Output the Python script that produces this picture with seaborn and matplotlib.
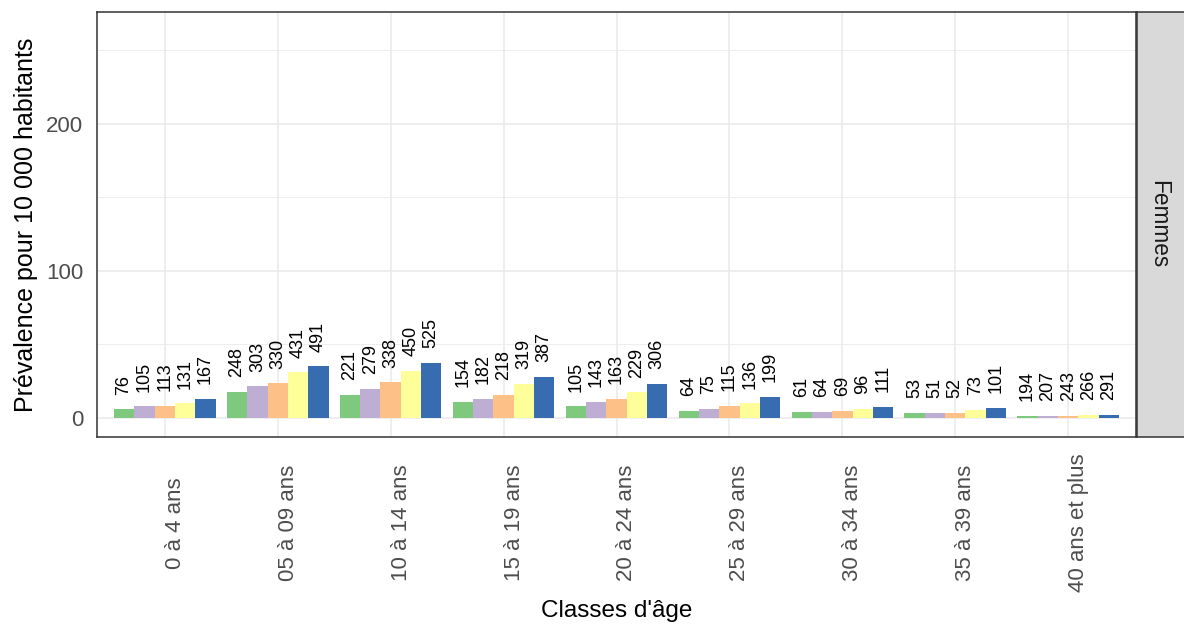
import numpy as np
import pandas as pd
import matplotlib
matplotlib.use("Agg")
import matplotlib.pyplot as plt
import matplotlib.transforms as mtransforms
import seaborn as sns

# Données
classes = ["0 à 4 ans", "05 à 09 ans", "10 à 14 ans", "15 à 19 ans", "20 à 24 ans",
           "25 à 29 ans", "30 à 34 ans", "35 à 39 ans", "40 ans et plus"]
groupes = ["groupe 1", "groupe 2", "groupe 3", "groupe 4", "groupe 5"]

prev_g1 = [5.8, 17.9, 15.9, 11.1, 7.9, 4.8, 4.3, 3.6, 1.6]
prev_g2 = [8.0, 21.5, 19.9, 13.1, 10.9, 6.1, 4.3, 3.6, 1.6]
prev_g3 = [8.4, 23.6, 24.3, 15.9, 12.9, 8.4, 4.8, 3.6, 1.6]
prev_g4 = [10.0, 31.1, 32.2, 23.1, 17.5, 10.0, 6.3, 5.4, 2.0]
prev_g5 = [12.9, 35.2, 37.4, 27.9, 23.3, 14.3, 7.5, 6.8, 2.2]

n_g1 = [76, 248, 221, 154, 105, 64, 61, 53, 194]
n_g2 = [105, 303, 279, 182, 143, 75, 64, 51, 207]
n_g3 = [113, 330, 338, 218, 163, 115, 69, 52, 243]
n_g4 = [131, 431, 450, 319, 229, 136, 96, 73, 266]
n_g5 = [167, 491, 525, 387, 306, 199, 111, 101, 291]

couleurs = ["#7FC97F", "#BEAED4", "#FDC086", "#FFFF99", "#386CB0"]

prevs = [prev_g1, prev_g2, prev_g3, prev_g4, prev_g5]
ns = [n_g1, n_g2, n_g3, n_g4, n_g5]
df = pd.DataFrame({
    "classe": classes * 5,
    "groupe": np.repeat(groupes, len(classes)),
    "prevalence": np.concatenate(prevs),
    "n": np.concatenate(ns),
})

sns.set_theme(style="white")
plt.rcParams["font.family"] = ["Liberation Sans", "DejaVu Sans"]

fig = plt.figure(figsize=(11.84, 6.28), dpi=100)
ax = fig.add_axes([97 / 1184, 1 - 437 / 628, (1136 - 97) / 1184, (437 - 12) / 628])

sns.barplot(data=df, x="classe", y="prevalence", hue="groupe", order=classes,
            hue_order=groupes, palette=couleurs, width=0.9, saturation=1,
            linewidth=0, legend=False, ax=ax, zorder=3)

# étiquettes des effectifs au-dessus des barres
for cont, n_vals in zip(ax.containers, ns):
    for barre, n in zip(cont, n_vals):
        ax.text(barre.get_x() + barre.get_width() / 2, barre.get_height() + 10, str(n),
                rotation=90, ha="center", va="bottom", fontsize=13, color="black", zorder=4)

ax.set_xlim(-0.6, len(classes) - 0.4)
ax.set_ylim(-12.9, 276)
ax.set_yticks([0, 100, 200])
ax.set_yticks([50, 150, 250], minor=True)
ax.grid(True, which="major", color="#EBEBEB", linewidth=1.2, zorder=0)
ax.grid(True, which="minor", axis="y", color="#EBEBEB", linewidth=0.6, zorder=0)
ax.set_axisbelow(True)
ax.tick_params(axis="both", which="major", length=4, width=1.1, color="#333333",
               labelcolor="#4D4D4D", labelsize=16, pad=3)
ax.tick_params(axis="y", which="major", pad=6)
ax.tick_params(axis="y", which="minor", length=0)
for s in ax.spines.values():
    s.set_color("#333333")
    s.set_linewidth(1.1)

# libellés des classes : verticaux, centrés sous l'axe, à droite du repère
ax.set_xticks(range(len(classes)))
ax.set_xticklabels([])
trans = mtransforms.blended_transform_factory(ax.transData, ax.transAxes)
for i, c in enumerate(classes):
    ax.text(i, -0.202, c, rotation=90, ha="left", va="center", fontsize=16,
            color="#4D4D4D", transform=trans)

ax.set_xlabel("")
ax.set_ylabel("Prévalence pour 10 000 habitants", fontsize=18, color="black", labelpad=6)
fig.text((97 + 1136) / 2 / 1184, 1 - 611 / 628, "Classes d'âge", ha="center", va="center",
         fontsize=17.5, color="black")

# bandeau de facette à droite
strip = fig.add_axes([1137 / 1184, 1 - 437 / 628, 60 / 1184, (437 - 12) / 628])
strip.set_facecolor("#D9D9D9")
strip.set_xticks([])
strip.set_yticks([])
for s in strip.spines.values():
    s.set_color("#333333")
    s.set_linewidth(1.1)
strip.text(0.36, 0.5, "Femmes", rotation=-90, ha="center", va="center",
           fontsize=16.3, color="#1A1A1A", transform=strip.transAxes)

fig.savefig("out.png", dpi=100, facecolor="white")
